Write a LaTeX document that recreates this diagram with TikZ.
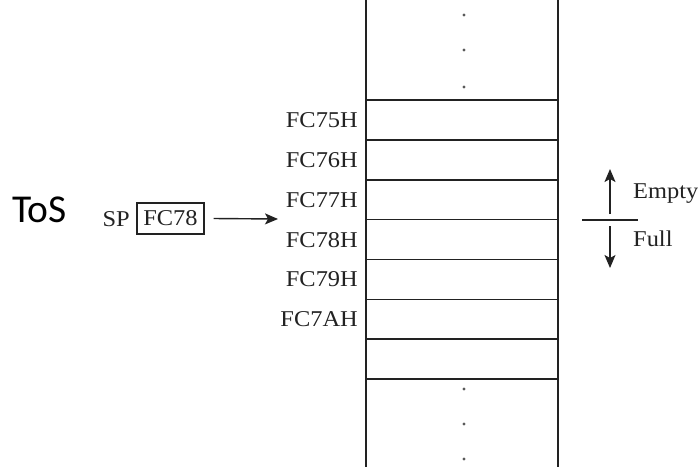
\documentclass[tikz,border=0pt]{standalone}
\usepackage{fontspec}
\setmainfont{Liberation Serif}[FakeStretch=1.08]
\newfontfamily\tosfont{Carlito}
\usetikzlibrary{arrows.meta}
\definecolor{ink}{HTML}{222222}
\tikzset{
  x=1pt, y=-1pt,
  wall/.style={draw=ink, line width=1.6pt},
  cell/.style={draw=ink, line width=1.6pt},
  addr/.style={anchor=base east, text=ink, inner sep=0pt, font=\fontsize{22.6}{24}\selectfont},
  lbl/.style={text=ink, inner sep=0pt, font=\fontsize{22.6}{24}\selectfont},
  ptr/.style={draw=ink, line width=1.4pt, -{Stealth[length=13pt,width=11pt,inset=3pt]}},
  dot/.style={circle, fill=ink!75, inner sep=0pt, minimum size=3.2pt},
}
\begin{document}
\begin{tikzpicture}
  \useasboundingbox (0,0) rectangle (698,467);

  % stack column walls
  \draw[wall] (366,0) -- (366,467);
  \draw[wall] (558,0) -- (558,467);

  % cell boundaries
  \foreach \yy in {100,140,180,219.5,259.5,299.5,339,379}
    \draw[cell] (366,\yy) -- (558,\yy);

  % continuation dots above and below
  \foreach \yy/\nm in {15/a1,50/a2,87/a3,389/b1,424/b2,459/b3}
    \node[dot] (dot\nm) at (464,\yy) {};

  % memory addresses
  \node[addr] (m75) at (358,127.5) {FC75H};
  \node[addr] (m76) at (358,167.4) {FC76H};
  \node[addr] (m77) at (358,207.3) {FC77H};
  \node[addr] (m78) at (358,247.0) {FC78H};
  \node[addr] (m79) at (358,286.9) {FC79H};
  \node[addr] (m7A) at (358,326.7) {FC7AH};

  % stack pointer register
  \node[lbl, anchor=base west, text=black, font=\tosfont\fontsize{39.5}{42}\selectfont] (tos) at (12,222) {ToS};
  \node[lbl, anchor=base east] (sp) at (130,226.5) {SP};
  \node[lbl, draw=ink, line width=1.2pt, minimum width=67pt, minimum height=31pt, anchor=center] (spbox) at (170.5,218.5) {FC78};
  \coordinate (sptip) at (278,219);
  \draw[ptr] ([xshift=9pt]spbox.east) -- (sptip);

  % growth direction marker
  \coordinate (divl) at (582,220);
  \coordinate (divr) at (638,220);
  \draw[draw=ink, line width=1.4pt] (divl) -- (divr);
  \coordinate (upfrom) at (610,214);
  \coordinate (upto) at (610,169);
  \coordinate (dnfrom) at (610,226);
  \coordinate (dnto) at (610,268);
  \draw[ptr] (upfrom) -- (upto);
  \draw[ptr] (dnfrom) -- (dnto);
  \node[lbl, anchor=base west] (empty) at (633,198) {Empty};
  \node[lbl, anchor=base west] (full) at (633,246) {Full};
\end{tikzpicture}
\end{document}
